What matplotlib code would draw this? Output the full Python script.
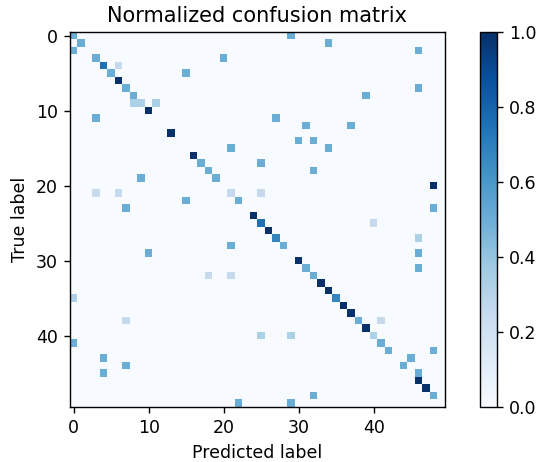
import numpy as np
from matplotlib import pyplot as plt

#-----------------------------------------------------------------------------------------

n_classes = 50

# non-zero cells of the row-normalized confusion matrix: (true, predicted, value)
true_idx = [0, 0, 1, 1, 2, 2, 3, 3, 4, 4, 5, 5, 6, 7, 7, 8, 8,
            9, 9, 9, 10, 11, 11, 12, 12, 13, 14, 14, 15, 15, 16,
            17, 17, 18, 18, 19, 19, 20, 21, 21, 21, 21, 22, 22, 23, 23,
            24, 25, 25, 26, 27, 27, 28, 28, 29, 29, 30, 31, 31,
            32, 32, 32, 33, 34, 35, 35, 36, 37, 38, 38, 38, 39,
            40, 40, 40, 41, 41, 42, 42, 43, 43, 44, 44, 45, 45,
            46, 47, 48, 48, 49, 49]
pred_idx = [0, 29, 1, 34, 0, 46, 3, 20, 4, 6, 5, 15, 6, 7, 46, 8, 39,
            8, 9, 11, 10, 3, 27, 31, 37, 13, 30, 32, 21, 34, 16,
            17, 25, 18, 32, 9, 19, 48, 3, 6, 21, 25, 15, 22, 7, 48,
            24, 25, 40, 26, 27, 46, 21, 28, 10, 46, 30, 31, 46,
            18, 21, 32, 33, 34, 0, 35, 36, 37, 7, 38, 41, 39,
            25, 29, 40, 0, 41, 42, 48, 4, 45, 7, 44, 4, 46,
            46, 47, 32, 48, 22, 29]
values = [0.5, 0.5, 0.5, 0.5, 0.5, 0.5, 0.5, 0.5, 0.75, 0.25, 0.5, 0.5, 1.0, 0.5, 0.5, 0.5, 0.5,
          0.33, 0.33, 0.33, 1.0, 0.5, 0.5, 0.5, 0.5, 1.0, 0.5, 0.5, 0.5, 0.5, 1.0,
          0.5, 0.5, 0.5, 0.5, 0.5, 0.5, 1.0, 0.25, 0.25, 0.25, 0.25, 0.5, 0.5, 0.5, 0.5,
          1.0, 0.75, 0.25, 1.0, 0.67, 0.33, 0.5, 0.5, 0.5, 0.5, 1.0, 0.5, 0.5,
          0.25, 0.25, 0.5, 1.0, 1.0, 0.33, 0.67, 1.0, 1.0, 0.25, 0.5, 0.25, 1.0,
          0.33, 0.33, 0.33, 0.5, 0.5, 0.5, 0.5, 0.5, 0.5, 0.5, 0.5, 0.5, 0.5,
          1.0, 1.0, 0.5, 0.5, 0.5, 0.5]

cm = np.zeros((n_classes, n_classes))
cm[true_idx, pred_idx] = values

#-----------------------------------------------------------------------------------------

# 538 x 462 px at 125 dpi
fig = plt.figure(figsize=(4.304, 3.696), dpi=125)
ax = fig.add_axes([0.130, 0.119, 0.697, 0.812])
cax = fig.add_axes([0.892, 0.119, 0.032, 0.812])

im = ax.imshow(cm, interpolation='nearest', cmap=plt.cm.Blues, vmin=0.0, vmax=1.0)
ax.set_title('Normalized confusion matrix')
fig.colorbar(im, cax=cax)

ax.set_xticks([0, 10, 20, 30, 40])
ax.set_yticks([0, 10, 20, 30, 40])
ax.set_ylabel('True label')
ax.set_xlabel('Predicted label')

fig.savefig("out.png", dpi=125)
